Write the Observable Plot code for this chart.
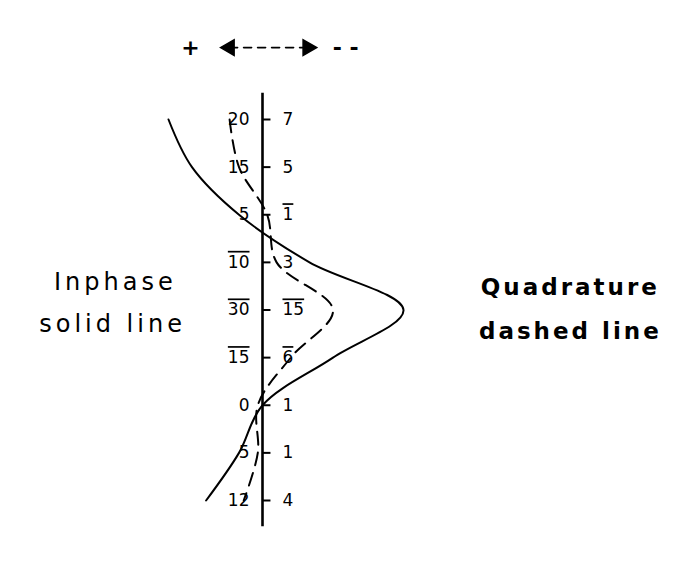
<!DOCTYPE html>
<html>
<head>
<meta charset="utf-8">
<script src="https://cdn.jsdelivr.net/npm/d3@7"></script>
<script src="https://cdn.jsdelivr.net/npm/@observablehq/plot@0.6"></script>
<style>
  html, body { margin: 0; padding: 0; background: #fff; }
  #chart svg { display: block; background: #fff; }
</style>
</head>
<body>
<div id="chart"></div>
<script>
// Stations along the profile (top to bottom)
const stations = [0, 1, 2, 3, 4, 5, 6, 7, 8];
// Inphase (solid) and quadrature (dashed) readings; + plots to the left, − to the right
const inphase = [20, 15, 5, -10, -30, -15, 0, 5, 12];
const quadrature = [7, 5, -1, -3, -15, -6, 1, 1, 4];
// Tick labels as hand-written ("¯" prefix = drawn with an overline, i.e. negative)
const inphaseLabels = ["20", "15", "5", "¯10", "¯30", "¯15", "0", "5", "12"];
const quadLabels = ["7", "5", "¯1", "3", "¯15", "¯6", "1", "1", "4"];
// Sign convention header
const signs = [{x: 15.3, label: "+"}, {x: -17.7, label: "- -"}];
const arrowEnds = [7.0, -9.6];
const headerRow = -1.51;
// Legend texts
const legendLeft = [{x: 31.3, y: 3.42, t: "Inphase"}, {x: 31.9, y: 4.31, t: "solid line"}];
const legendRight = [{x: -65.5, y: 3.53, t: "Quadrature"}, {x: -65.5, y: 4.45, t: "dashed line"}];

const rows = stations.map((s, i) => ({s, ip: inphase[i], q: quadrature[i], li: inphaseLabels[i], lq: quadLabels[i]}));
const font = "DejaVu Sans, sans-serif";

const chart = Plot.plot({
  width: 698,
  height: 575,
  margin: 0,
  style: {background: "#fff", fontFamily: font},
  x: {domain: [20, -30], range: [168, 403], axis: null},
  y: {domain: [0, 8], range: [119, 500], axis: null},
  marks: [
    // profile axis
    Plot.ruleX([0], {y1: -0.55, y2: 8.55, stroke: "#000", strokeWidth: 2.6}),
    // station ticks
    Plot.ruleY(rows, {y: "s", x1: 0, x2: -1.8, stroke: "#000", strokeWidth: 2}),
    // curves
    Plot.line(rows, {x: "ip", y: "s", curve: "catmull-rom", stroke: "#000", strokeWidth: 2}),
    Plot.line(rows, {x: "q", y: "s", curve: "catmull-rom", stroke: "#000", strokeWidth: 2, strokeDasharray: "13,8"}),
    // labels
    Plot.text(rows, {x: 0, y: "s", text: "li", dx: -13, textAnchor: "end", fontSize: 17, fill: "#000"}),
    Plot.text(rows, {x: 0, y: "s", text: "lq", dx: 20, textAnchor: "start", fontSize: 17, fill: "#000"}),
    // header: sign convention
    Plot.text(signs, {x: "x", y: headerRow, text: "label", fontSize: 22, fontWeight: "bold", fill: "#000"}),
    Plot.line(arrowEnds, {x: d => d, y: headerRow, stroke: "#000", strokeWidth: 1.6, strokeDasharray: "8,6"}),
    Plot.dot(arrowEnds, {x: d => d, y: headerRow, symbol: "triangle2", r: 7.5, fill: "#000", stroke: "#000", rotate: (d, i) => (i === 0 ? -90 : 90)}),
    // legend
    Plot.text(legendLeft, {x: "x", y: "y", text: "t", fontSize: 24, fill: "#000"}),
    Plot.text(legendRight, {x: "x", y: "y", text: "t", fontSize: 23, fontWeight: "bold", fill: "#000"})
  ]
});
document.getElementById("chart").appendChild(chart);

const sel = d3.select(chart).selectAll("text");
sel.each(function () {
  const el = d3.select(this);
  const t = this.textContent;
  if (t.startsWith("¯")) {
    el.text(t.slice(1)).style("text-decoration", "overline");
  }
  if (["Inphase", "solid line"].includes(t)) el.style("letter-spacing", "4px");
  if (["Quadrature", "dashed line"].includes(t)) el.style("letter-spacing", "3px");
});
</script>
</body>
</html>
